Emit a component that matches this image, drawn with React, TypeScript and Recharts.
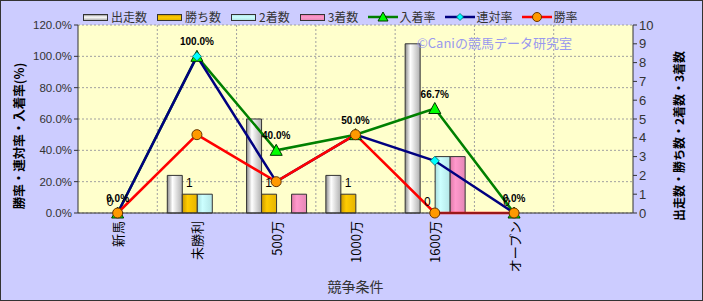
import React from 'react';
import { ComposedChart, Bar, Line, XAxis, YAxis, CartesianGrid, LabelList, Label } from 'recharts';

// 競争条件ごとの成績
const categories = ['新馬', '未勝利', '500万', '1000万', '1600万', 'オープン', ''];
const starts = [0, 2, 5, 2, 9, 0];
const wins = [0, 1, 1, 1, 0, 0];
const seconds = [0, 1, 0, 0, 3, 0];
const thirds = [0, 0, 1, 0, 3, 0];
const placeRate = [0, 100, 40, 50, 66.7, 0];
const rentaiRate = [0, 100, 20, 50, 33.3, 0];
const winRate = [0, 50, 20, 50, 0, 0];
const rateTicks = [0, 20, 40, 60, 80, 100, 120];
const countTicks = [0, 1, 2, 3, 4, 5, 6, 7, 8, 9, 10];

const data = categories.map((name, i) => ({
  name,
  starts: starts[i] ?? null,
  wins: wins[i] ?? null,
  seconds: seconds[i] ?? null,
  thirds: thirds[i] ?? null,
  placeRate: placeRate[i] ?? null,
  rentaiRate: rentaiRate[i] ?? null,
  winRate: winRate[i] ?? null,
}));

const BAR_SIZE = 15;
const FONT = '"Liberation Sans", "Noto Sans CJK JP", sans-serif';
const JP = '"Noto Sans CJK JP", sans-serif';

const pct = (v: any) => (v == null ? '' : `${Number(v).toFixed(1)}%`);

const CategoryTick = (props: any) => {
  const { x, y, payload } = props;
  return (
    <text
      x={x}
      y={y}
      transform={`rotate(-90, ${x}, ${y})`}
      textAnchor="end"
      dominantBaseline="central"
      fontSize={13}
      fontFamily={JP}
      fill="#000"
    >
      {payload.value}
    </text>
  );
};

const TriangleDot = (props: any) => {
  const { cx, cy, index } = props;
  if (cx == null || cy == null) return <g key={`t${index}`} />;
  return (
    <polygon
      key={`t${index}`}
      points={`${cx},${cy - 6} ${cx + 6},${cy + 5} ${cx - 6},${cy + 5}`}
      fill="#00ff00"
      stroke="#003300"
      strokeWidth={1}
    />
  );
};

const DiamondDot = (props: any) => {
  const { cx, cy, index } = props;
  if (cx == null || cy == null) return <g key={`d${index}`} />;
  return (
    <polygon
      key={`d${index}`}
      points={`${cx},${cy - 4.5} ${cx + 4.5},${cy} ${cx},${cy + 4.5} ${cx - 4.5},${cy}`}
      fill="#00ffff"
      stroke="#006666"
      strokeWidth={0.8}
    />
  );
};

const CircleDot = (props: any) => {
  const { cx, cy, index } = props;
  if (cx == null || cy == null) return <g key={`c${index}`} />;
  return <circle key={`c${index}`} cx={cx} cy={cy} r={5} fill="#ff9900" stroke="#663300" strokeWidth={1} />;
};

// 勝ち数の値ラベル (0 も表示するため、棒の位置へずらして描く)
const WinsLabel = (p: any) => {
  if (p.value == null) return null;
  const vx = p.viewBox?.x ?? p.x;
  const vy = p.viewBox?.y ?? p.y;
  return (
    <text x={vx - BAR_SIZE / 2} y={vy - 7} textAnchor="middle" fontSize={12} fontFamily={FONT} fill="#000">
      {p.value}
    </text>
  );
};

const barLegend = [
  { label: '出走数', bg: 'linear-gradient(to bottom, #9a9a9a, #ffffff 40%, #b5b5b5)' },
  { label: '勝ち数', bg: 'linear-gradient(to bottom, #cc9900, #ffcc00 40%, #e6b800)' },
  { label: '2着数', bg: 'linear-gradient(to bottom, #b3e6e6, #ccffff 40%, #b3e6e6)' },
  { label: '3着数', bg: 'linear-gradient(to bottom, #e67aad, #ff99cc 40%, #e68ab8)' },
];

const lineLegend = [
  { label: '入着率', color: '#008000', dot: 'tri' },
  { label: '連対率', color: '#000080', dot: 'dia' },
  { label: '勝率', color: '#ff0000', dot: 'cir' },
];

function LegendBox() {
  return (
    <div
      style={{
        position: 'absolute',
        left: 83,
        top: 9,
        display: 'flex',
        alignItems: 'center',
        gap: 10,
        fontFamily: JP,
        fontSize: 12,
        color: '#333',
        lineHeight: '16px',
      }}
    >
      {barLegend.map((b) => (
        <div key={b.label} style={{ display: 'flex', alignItems: 'center' }}>
          <span
            style={{
              display: 'inline-block',
              width: 23,
              height: 5,
              border: '1.5px solid #333',
              background: b.bg,
              marginRight: 3,
            }}
          />
          {b.label}
        </div>
      ))}
      {lineLegend.map((l) => (
        <div key={l.label} style={{ display: 'flex', alignItems: 'center' }}>
          <svg width={30} height={12} style={{ marginRight: 1 }}>
            <line x1={0} y1={6} x2={30} y2={6} stroke={l.color} strokeWidth={2.5} />
            {l.dot === 'tri' && <polygon points="15,1 20,10 10,10" fill="#00ff00" stroke="#003300" />}
            {l.dot === 'dia' && <polygon points="15,2.5 18.5,6 15,9.5 11.5,6" fill="#00ffff" stroke="#006666" strokeWidth={0.8} />}
            {l.dot === 'cir' && <circle cx={15} cy={6} r={4.5} fill="#ff9900" stroke="#663300" />}
          </svg>
          {l.label}
        </div>
      ))}
    </div>
  );
}

const axisTitle = (text: string, dx: number, size: number) => ({ viewBox }: any) => {
  const x = viewBox.x + dx;
  const y = viewBox.y + viewBox.height / 2 + 17;
  return (
    <text
      x={x}
      y={y}
      transform={`rotate(-90, ${x}, ${y})`}
      textAnchor="middle"
      dominantBaseline="central"
      fontSize={size}
      fontWeight="bold"
      fontFamily={JP}
      fill="#000"
    >
      {text}
    </text>
  );
};

export default function App() {
  return (
    <div style={{ position: 'absolute', left: 0, top: 0, width: 703, height: 301, background: '#ccccff' }}>
      <ComposedChart
        width={703}
        height={301}
        data={data}
        margin={{ top: 25, right: 0, bottom: 0, left: 0 }}
        barGap={0}
        barSize={BAR_SIZE}
      >
        <defs>
          <linearGradient id="gStarts" x1="0" y1="0" x2="1" y2="0">
            <stop offset="0%" stopColor="#8c8c8c" />
            <stop offset="35%" stopColor="#ffffff" />
            <stop offset="100%" stopColor="#b0b0b0" />
          </linearGradient>
          <linearGradient id="gWins" x1="0" y1="0" x2="1" y2="0">
            <stop offset="0%" stopColor="#cc9900" />
            <stop offset="35%" stopColor="#ffcc00" />
            <stop offset="100%" stopColor="#e6b400" />
          </linearGradient>
          <linearGradient id="gSeconds" x1="0" y1="0" x2="1" y2="0">
            <stop offset="0%" stopColor="#a8dede" />
            <stop offset="35%" stopColor="#ccffff" />
            <stop offset="100%" stopColor="#b3e6e6" />
          </linearGradient>
          <linearGradient id="gThirds" x1="0" y1="0" x2="1" y2="0">
            <stop offset="0%" stopColor="#e07aa8" />
            <stop offset="35%" stopColor="#ff99cc" />
            <stop offset="100%" stopColor="#e688b6" />
          </linearGradient>
        </defs>
        <CartesianGrid
          yAxisId="left"
          fill="#ffffcc"
          stroke="#a0a0a0"
          strokeDasharray="2 2"
          verticalCoordinatesGenerator={({ offset }: any) =>
            categories.slice(1).map((_, i) => offset.left + ((i + 1) * offset.width) / categories.length)
          }
        />
        <XAxis
          dataKey="name"
          interval={0}
          height={88}
          tick={<CategoryTick />}
          tickLine={false}
          axisLine={{ stroke: '#333' }}
        >
          <Label value="競争条件" position="insideBottom" offset={9} fill="#333" fontSize={14} fontFamily={JP} />
        </XAxis>
        <YAxis
          yAxisId="left"
          width={78}
          domain={[0, 120]}
          ticks={rateTicks}
          interval={0}
          tickFormatter={pct}
          tick={{ fill: '#333', fontSize: 11.5, fontFamily: FONT }}
          tickSize={4}
          tickLine={{ stroke: '#333' }}
          axisLine={{ stroke: '#333' }}
        >
          <Label content={axisTitle('勝率・連対率・入着率(%)', 18, 12.5)} />
        </YAxis>
        <YAxis
          yAxisId="right"
          orientation="right"
          width={70}
          domain={[0, 10]}
          ticks={countTicks}
          interval={0}
          tick={{ fill: '#333', fontSize: 13, fontFamily: FONT }}
          tickSize={4}
          tickLine={{ stroke: '#333' }}
          axisLine={{ stroke: '#333' }}
        >
          <Label content={axisTitle('出走数・勝ち数・2着数・3着数', 45, 12)} />
        </YAxis>
        <Bar yAxisId="right" dataKey="starts" fill="url(#gStarts)" stroke="#333" strokeWidth={1} isAnimationActive={false} />
        <Bar yAxisId="right" dataKey="wins" fill="url(#gWins)" stroke="#333" strokeWidth={1} isAnimationActive={false} />
        <Bar yAxisId="right" dataKey="seconds" fill="url(#gSeconds)" stroke="#333" strokeWidth={1} isAnimationActive={false} />
        <Bar yAxisId="right" dataKey="thirds" fill="url(#gThirds)" stroke="#333" strokeWidth={1} isAnimationActive={false} />
        <Line
          yAxisId="right"
          dataKey="wins"
          stroke="none"
          dot={false}
          activeDot={false}
          legendType="none"
          isAnimationActive={false}
        >
          <LabelList dataKey="wins" content={WinsLabel} />
        </Line>
        <Line
          yAxisId="left"
          dataKey="placeRate"
          stroke="#008000"
          strokeWidth={2.5}
          dot={TriangleDot}
          activeDot={false}
          isAnimationActive={false}
        >
          <LabelList
            dataKey="placeRate"
            position="top"
            offset={11}
            formatter={pct}
            fontSize={10}
            fontWeight="bold"
            fill="#000"
            fontFamily={FONT}
          />
        </Line>
        <Line
          yAxisId="left"
          dataKey="rentaiRate"
          stroke="#000080"
          strokeWidth={2.5}
          dot={DiamondDot}
          activeDot={false}
          isAnimationActive={false}
        />
        <Line
          yAxisId="left"
          dataKey="winRate"
          stroke="#ff0000"
          strokeWidth={2.5}
          dot={CircleDot}
          activeDot={false}
          isAnimationActive={false}
        />
      </ComposedChart>
      <LegendBox />
      <div
        style={{
          position: 'absolute',
          left: 417,
          top: 34,
          fontFamily: JP,
          fontSize: 13,
          lineHeight: '18px',
          color: '#9999ee',
          whiteSpace: 'nowrap',
        }}
      >
        ©Caniの競馬データ研究室
      </div>
      <div
        style={{
          position: 'absolute',
          inset: 0,
          border: '1px solid #333',
          boxSizing: 'border-box',
          pointerEvents: 'none',
        }}
      />
    </div>
  );
}
